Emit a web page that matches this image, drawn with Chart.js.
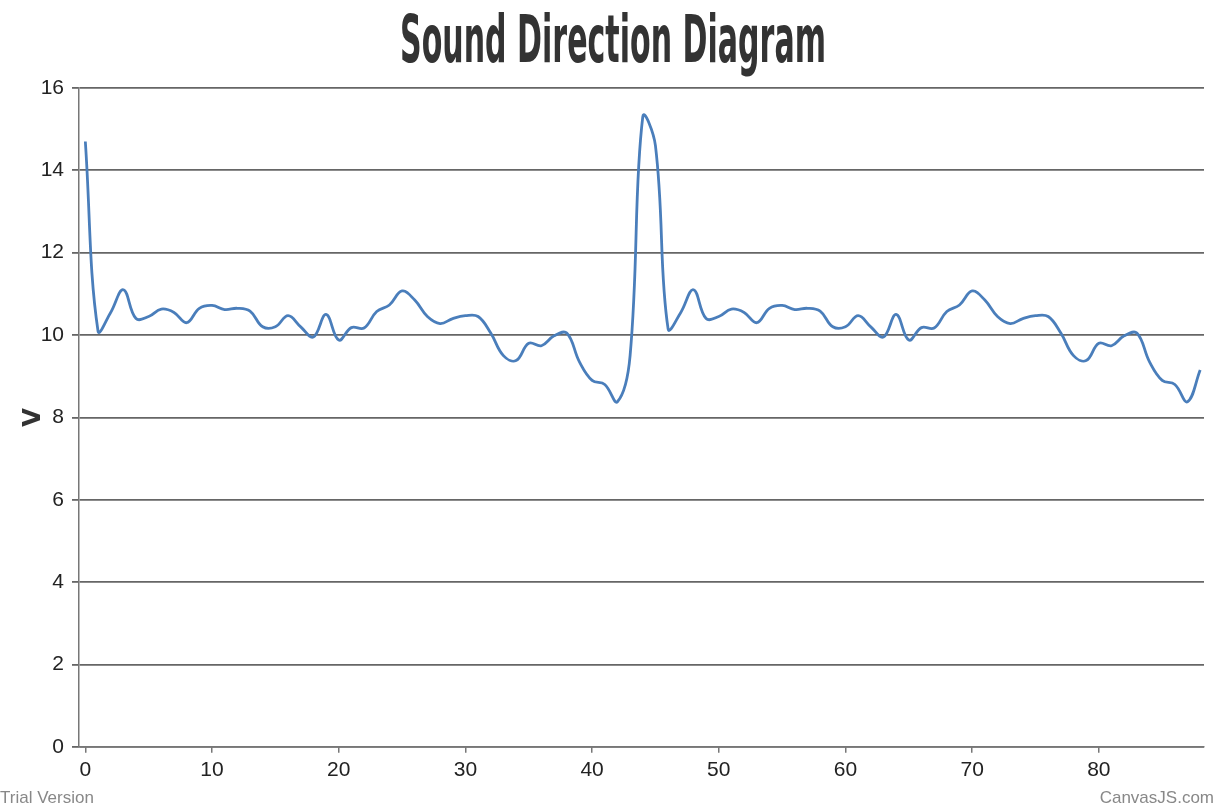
<!DOCTYPE html>
<html>
<head>
<meta charset="utf-8">
<script src="https://cdn.jsdelivr.net/npm/chart.js@4"></script>
<style>
  html, body { margin: 0; padding: 0; background: #fff; }
  #wrap { width: 1226px; height: 812px; position: relative; }
</style>
</head>
<body>
<div id="wrap"><canvas id="chartSom"></canvas></div>
<script>
// valores (x = 0..88)
const amostras = [
    0, 1, 2, 3, 4, 5, 6, 7, 8, 9, 10, 11, 12, 13, 14, 15, 16, 17, 18, 19, 20, 21,
    22, 23, 24, 25, 26, 27, 28, 29, 30, 31, 32, 33, 34, 35, 36, 37, 38, 39, 40, 41, 42, 43,
    44,
    45, 46, 47, 48, 49, 50, 51, 52, 53, 54, 55, 56, 57, 58, 59, 60, 61, 62, 63, 64, 65, 66,
    67, 68, 69, 70, 71, 72, 73, 74, 75, 76, 77, 78, 79, 80, 81, 82, 83, 84, 85, 86, 87, 88
];

const tensao = [
    14.7, 10.1, 10.55, 11.1, 10.4, 10.45, 10.63, 10.55, 10.3, 10.65, 10.72, 10.62, 10.65, 10.58,
    10.2, 10.2, 10.47, 10.2, 9.95, 10.5, 9.88, 10.18, 10.17, 10.57, 10.73, 11.07, 10.85, 10.45,
    10.28, 10.4, 10.47, 10.45, 10.05, 9.5, 9.38, 9.8, 9.74, 9.98, 10.05, 9.35, 8.9, 8.8, 8.38, 9.5,
    15.3,
    14.6, 10.15, 10.55, 11.1, 10.4, 10.45, 10.63, 10.55, 10.3, 10.65, 10.72, 10.62, 10.65, 10.58,
    10.2, 10.2, 10.47, 10.2, 9.95, 10.5, 9.88, 10.18, 10.17, 10.57, 10.73, 11.07, 10.85, 10.45,
    10.28, 10.4, 10.47, 10.45, 10.05, 9.5, 9.38, 9.8, 9.74, 9.98, 10.05, 9.35, 8.9, 8.8, 8.38, 9.15
];

const ticksX = [0, 10, 20, 30, 40, 50, 60, 70, 80];

const titulo = 'Sound Direction Diagram';
const fonteEixo = '"Liberation Sans", Arial, sans-serif';

// título estreito e pesado + marca d'água no rodapé
const textosExtras = {
    id: 'textosExtras',
    afterDraw(chart) {
        const c = chart.ctx;
        c.save();
        c.font = 'bold 66px "DejaVu Sans", sans-serif';
        c.fillStyle = '#333';
        c.textBaseline = 'alphabetic';
        c.textAlign = 'center';
        const w = c.measureText(titulo).width;
        const sx = 426 / w;
        c.translate(613, 62);
        c.scale(sx, 1);
        c.fillText(titulo, 0, 0);
        c.restore();

        c.save();
        c.font = '17px ' + fonteEixo;
        c.fillStyle = '#888';
        c.textBaseline = 'alphabetic';
        c.textAlign = 'left';
        c.fillText('Trial Version', 0, 803);
        c.textAlign = 'right';
        c.fillText('CanvasJS.com', 1214, 803);
        c.restore();
    }
};

const ctx = document.getElementById('chartSom').getContext('2d');

const somChart = new Chart(ctx, {
    type: 'line',
    data: {
        labels: amostras,
        datasets: [
            {
                label: 'V',
                data: amostras.map((x, i) => ({ x: x, y: tensao[i] })),
                borderColor: '#4a7ebb',
                borderWidth: 2.8,
                pointRadius: 0,
                tension: 0.4,
                fill: false
            }
        ]
    },
    options: {
        responsive: true,
        maintainAspectRatio: false,
        animation: false,
        layout: {
            padding: { left: 8, right: 22, top: 88, bottom: 24 }
        },
        plugins: {
            legend: { display: false },
            tooltip: { enabled: false },
            title: { display: false }
        },
        scales: {
            x: {
                type: 'linear',
                min: -0.5,
                max: 88.3,
                afterBuildTicks: (scale) => {
                    scale.ticks = ticksX.map(v => ({ value: v }));
                },
                ticks: {
                    color: '#222',
                    font: { family: fonteEixo, size: 21 },
                    padding: 5,
                    maxRotation: 0
                },
                grid: { drawOnChartArea: false, drawTicks: true, tickLength: 6, color: '#777', lineWidth: 1.5 },
                border: { color: '#777', width: 1.5 }
            },
            y: {
                min: 0,
                max: 16,
                afterFit: (scale) => {
                    scale.width = 71;
                },
                ticks: {
                    stepSize: 2,
                    color: '#222',
                    font: { family: fonteEixo, size: 21 },
                    padding: 8
                },
                grid: { color: '#666', lineWidth: 1.8, tickLength: 7 },
                border: { color: '#777', width: 1.5 },
                title: {
                    display: true,
                    text: 'V',
                    color: '#333',
                    font: { family: '"DejaVu Sans", sans-serif', size: 24, weight: 'bold', lineHeight: 1 },
                    padding: { top: 14, bottom: 0 }
                }
            }
        }
    },
    plugins: [textosExtras]
});
</script>
</body>
</html>
